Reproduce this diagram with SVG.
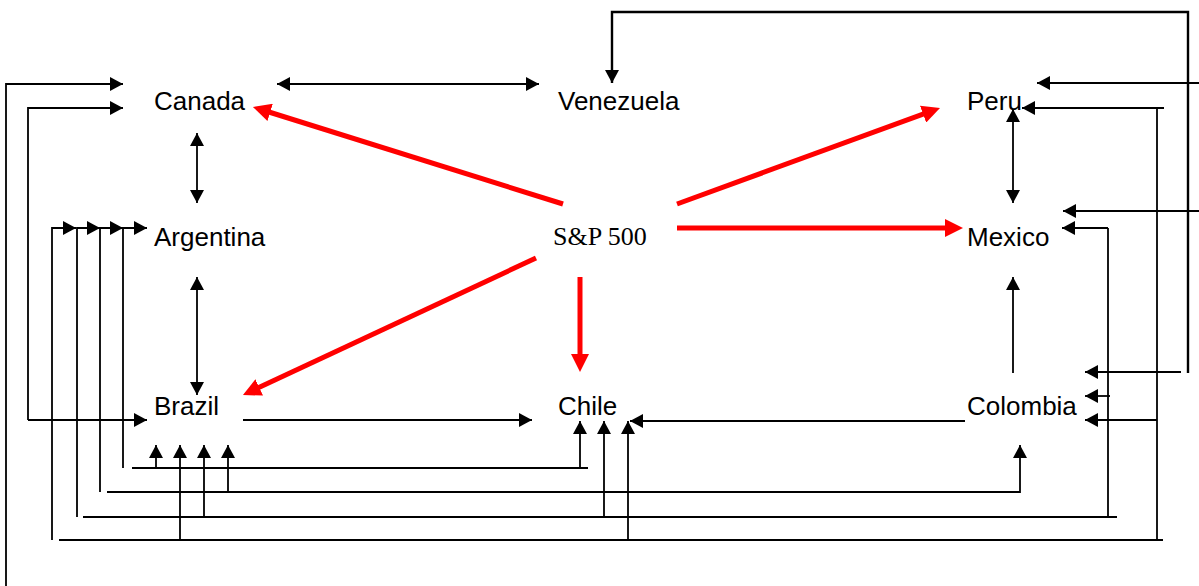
<svg xmlns="http://www.w3.org/2000/svg" width="1199" height="586" viewBox="0 0 1199 586">
<style>
.lbl{font-family:"Liberation Sans",Arial,sans-serif;font-size:26px;fill:#000}
.sp{font-family:"Liberation Serif","Times New Roman",serif;font-size:26px;fill:#000}
.c{fill:none;stroke:#000;stroke-width:1.8}
.r{fill:none;stroke:#ff0000;stroke-width:5}
.a{marker-end:url(#ah)}
.d{marker-start:url(#ah);marker-end:url(#ah)}
.ra{marker-end:url(#rh)}
</style>
<defs>
<marker id="ah" viewBox="0 0 13 14" refX="13" refY="7" markerWidth="13" markerHeight="14" markerUnits="userSpaceOnUse" orient="auto-start-reverse">
<path d="M0,0 L13,7 L0,14 z" fill="#000"/>
</marker>
<marker id="rh" viewBox="0 0 18 18" refX="8" refY="9" markerWidth="18" markerHeight="18" markerUnits="userSpaceOnUse" orient="auto">
<path d="M0,0 L18,9 L0,18 z" fill="#ff0000"/>
</marker>
</defs>
<rect width="1199" height="586" fill="#fff"/>
<g id="connectors">
<!-- black relations -->
<path class="c d" d="M277,84 H539"/>
<path class="c d" d="M197,133 V203"/>
<path class="c d" d="M197,277 V395"/>
<path class="c d" d="M1013,109 V203"/>
<path class="c a" d="M243,420 H532"/>
<path class="c a" d="M965,421 H630"/>
<path class="c a" d="M1013,373 V277"/>
<path class="c a" style="stroke-width:2.4" d="M1188,373 V12 H612 V83"/>
<path class="c a" d="M1181,372 H1085"/>
<path class="c a" d="M1199,83 H1037"/>
<path class="c a" d="M1164,108 H1022"/>
<path class="c" d="M1157,108 V540"/>
<path class="c a" d="M1157,420 H1085"/>
<path class="c" d="M59,540 H1163"/>
<path class="c a" d="M1199,211 H1063"/>
<path class="c a" d="M1108,228 H1062"/>
<path class="c" d="M1108,228 V517"/>
<path class="c a" d="M1110,396 H1085"/>
<path class="c" d="M83,517 H1117"/>
<path class="c a" d="M107,492 H1020 V445"/>
<path class="c" d="M132,468 H588"/>
<path class="c a" d="M580,468 V421"/>
<path class="c a" d="M156,468 V445"/>
<path class="c a" d="M180,540 V445"/>
<path class="c a" d="M204,517 V445"/>
<path class="c a" d="M228,492 V445"/>
<path class="c a" d="M604,517 V421"/>
<path class="c a" d="M628,540 V421"/>
<path class="c a" d="M52,540 V228 H76"/>
<path class="c a" d="M77,517 V228 H100"/>
<path class="c a" d="M100,492 V228 H123"/>
<path class="c a" d="M123,468 V228 H147"/>
<path class="c a" d="M6,586 V84 H123"/>
<path class="c a" d="M28,420 V108 H123"/>
<path class="c a" d="M28,420 H147"/>
<!-- red S&P 500 arrows -->
<path class="r ra" d="M563,204 L262.5,110"/>
<path class="r ra" d="M677,204 L930.6,111.4"/>
<path class="r ra" d="M677,228 L953,228"/>
<path class="r ra" d="M536,258 L252,390.8"/>
<path class="r ra" d="M580,277 L580,362"/>
</g>
<g id="node-canada"><text class="lbl" x="154" y="110">Canada</text></g>
<g id="node-venezuela"><text class="lbl" x="558" y="110">Venezuela</text></g>
<g id="node-peru"><text class="lbl" x="967" y="110">Peru</text></g>
<g id="node-argentina"><text class="lbl" x="154" y="246">Argentina</text></g>
<g id="node-sp500"><text class="sp" x="553" y="245">S&amp;P 500</text></g>
<g id="node-mexico"><text class="lbl" x="967" y="246">Mexico</text></g>
<g id="node-brazil"><text class="lbl" x="154" y="415">Brazil</text></g>
<g id="node-chile"><text class="lbl" x="558" y="415">Chile</text></g>
<g id="node-colombia"><text class="lbl" x="967" y="415">Colombia</text></g>
</svg>
